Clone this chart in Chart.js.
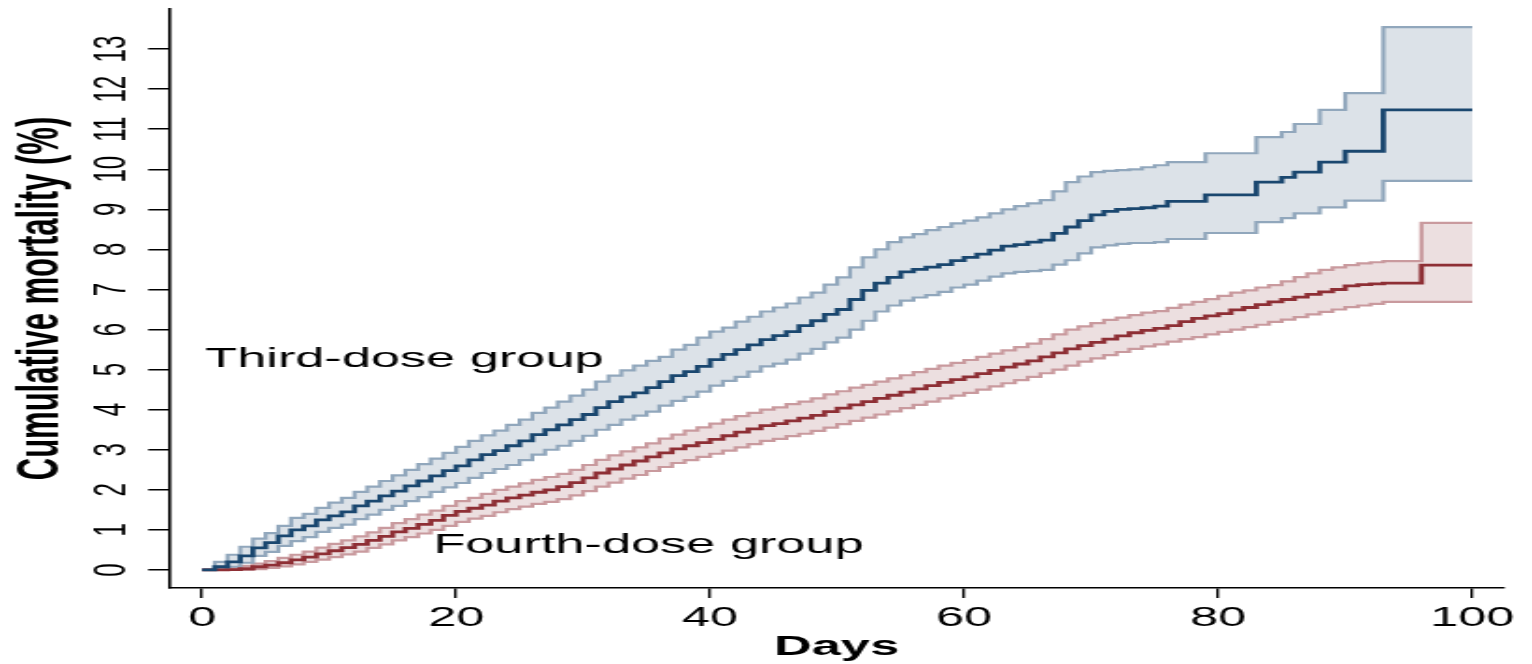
<!DOCTYPE html>
<html>
<head>
<meta charset="utf-8">
<script src="https://cdn.jsdelivr.net/npm/chart.js@4.4.1/dist/chart.umd.min.js"></script>
<style>
  html, body { margin: 0; padding: 0; background: #fff; }
  canvas { display: block; }
</style>
</head>
<body>
<!-- drawn at 820px wide and stretched to 1532px, like the wide-aspect original -->
<canvas id="kmChart" width="820" height="664" style="width:1532px;height:664px"></canvas>
<script>
var days = [
    0, 1, 2, 3, 4, 5, 6, 7, 8, 9,
    10, 11, 12, 13, 14, 15, 16, 17, 18, 19,
    20, 21, 22, 23, 24, 25, 26, 27, 28, 29,
    30, 31, 32, 33, 34, 35, 36, 37, 38, 39,
    40, 41, 42, 43, 44, 45, 46, 47, 48, 49,
    50, 51, 52, 53, 54, 55, 56, 57, 58, 59,
    60, 61, 62, 63, 64, 65, 66, 67, 68, 69,
    70, 71, 72, 73, 74, 75, 76, 77, 78, 79,
    80, 81, 82, 83, 84, 85, 86, 87, 88, 89,
    90, 91, 92, 93, 94, 95, 96, 97, 98, 99,
    100
];

// third-dose group: estimate, upper and lower 95% CI (%)
var thirdEst = [
    0, 0.08, 0.2, 0.35, 0.55, 0.68, 0.85, 1.0, 1.1, 1.25,
    1.35, 1.45, 1.6, 1.72, 1.85, 1.97, 2.1, 2.22, 2.35, 2.48,
    2.6, 2.75, 2.88, 2.98, 3.1, 3.22, 3.38, 3.5, 3.62, 3.75,
    3.88, 4.05, 4.2, 4.32, 4.42, 4.55, 4.7, 4.85, 4.95, 5.08,
    5.25, 5.38, 5.5, 5.62, 5.75, 5.85, 5.95, 6.1, 6.22, 6.38,
    6.5, 6.75, 6.98, 7.16, 7.3, 7.44, 7.5, 7.56, 7.62, 7.72,
    7.8, 7.88, 7.98, 8.08, 8.12, 8.18, 8.23, 8.4, 8.56, 8.72,
    8.86, 8.95, 9.0, 9.02, 9.04, 9.08, 9.2, 9.2, 9.2, 9.36,
    9.36, 9.36, 9.36, 9.68, 9.68, 9.8, 9.93, 9.93, 10.18, 10.18,
    10.45, 10.45, 10.45, 11.48, 11.48, 11.48, 11.48, 11.48, 11.48, 11.48,
    11.48
];
var thirdUp = [
    0, 0.2, 0.38, 0.58, 0.78, 0.92, 1.1, 1.3, 1.4, 1.55,
    1.68, 1.8, 1.95, 2.08, 2.22, 2.36, 2.5, 2.64, 2.78, 2.92,
    3.07, 3.22, 3.36, 3.48, 3.62, 3.75, 3.92, 4.05, 4.2, 4.35,
    4.5, 4.7, 4.85, 4.98, 5.1, 5.22, 5.32, 5.5, 5.62, 5.8,
    5.95, 6.05, 6.2, 6.32, 6.45, 6.55, 6.65, 6.8, 6.92, 7.12,
    7.3, 7.55, 7.8, 8.0, 8.18, 8.3, 8.38, 8.48, 8.56, 8.65,
    8.72, 8.8, 8.9, 9.0, 9.08, 9.15, 9.23, 9.45, 9.68, 9.82,
    9.93, 9.96, 9.98, 10.0, 10.05, 10.1, 10.18, 10.18, 10.18, 10.4,
    10.4, 10.4, 10.4, 10.8, 10.8, 10.93, 11.13, 11.13, 11.48, 11.48,
    11.9, 11.9, 11.9, 13.55, 13.55, 13.55, 13.55, 13.55, 13.55, 13.55,
    13.55
];
var thirdLow = [
    0, 0, 0.08, 0.18, 0.35, 0.45, 0.6, 0.72, 0.82, 0.95,
    1.05, 1.13, 1.27, 1.38, 1.5, 1.6, 1.72, 1.82, 1.95, 2.06,
    2.17, 2.3, 2.42, 2.52, 2.62, 2.74, 2.88, 3.0, 3.1, 3.22,
    3.35, 3.5, 3.62, 3.75, 3.85, 3.95, 4.1, 4.22, 4.32, 4.45,
    4.6, 4.72, 4.82, 4.95, 5.08, 5.15, 5.25, 5.4, 5.52, 5.68,
    5.8, 6.0, 6.22, 6.45, 6.6, 6.72, 6.8, 6.86, 6.94, 7.05,
    7.12, 7.22, 7.32, 7.4, 7.44, 7.46, 7.49, 7.62, 7.73, 7.9,
    8.05, 8.1, 8.14, 8.16, 8.16, 8.18, 8.26, 8.26, 8.26, 8.41,
    8.41, 8.41, 8.41, 8.68, 8.68, 8.78, 8.9, 8.9, 9.05, 9.05,
    9.22, 9.22, 9.22, 9.71, 9.71, 9.71, 9.71, 9.71, 9.71, 9.71,
    9.71
];

// fourth-dose group
var fourthEst = [
    0, 0, 0.01, 0.03, 0.08, 0.12, 0.18, 0.25, 0.32, 0.4,
    0.48, 0.56, 0.64, 0.74, 0.84, 0.95, 1.04, 1.14, 1.24, 1.36,
    1.46, 1.54, 1.62, 1.72, 1.8, 1.87, 1.94, 2.0, 2.08, 2.18,
    2.3, 2.42, 2.52, 2.62, 2.72, 2.82, 2.92, 3.02, 3.1, 3.18,
    3.26, 3.35, 3.44, 3.52, 3.6, 3.65, 3.72, 3.79, 3.86, 3.95,
    4.04, 4.12, 4.2, 4.28, 4.36, 4.44, 4.52, 4.6, 4.68, 4.75,
    4.82, 4.9, 4.98, 5.06, 5.14, 5.22, 5.32, 5.42, 5.52, 5.6,
    5.68, 5.76, 5.84, 5.92, 5.98, 6.03, 6.1, 6.2, 6.28, 6.34,
    6.4, 6.49, 6.55, 6.62, 6.69, 6.75, 6.81, 6.88, 6.94, 7.0,
    7.09, 7.12, 7.14, 7.16, 7.16, 7.16, 7.61, 7.61, 7.61, 7.61,
    7.61
];
var fourthUp = [
    0, 0.02, 0.05, 0.1, 0.16, 0.22, 0.3, 0.38, 0.46, 0.56,
    0.65, 0.74, 0.84, 0.94, 1.05, 1.17, 1.27, 1.38, 1.48, 1.6,
    1.72, 1.8, 1.9, 2.0, 2.08, 2.16, 2.25, 2.32, 2.4, 2.5,
    2.62, 2.75, 2.86, 2.96, 3.06, 3.16, 3.28, 3.38, 3.48, 3.56,
    3.65, 3.75, 3.84, 3.92, 4.0, 4.06, 4.14, 4.2, 4.28, 4.38,
    4.46, 4.55, 4.62, 4.7, 4.78, 4.86, 4.94, 5.02, 5.1, 5.17,
    5.24, 5.32, 5.4, 5.48, 5.56, 5.65, 5.76, 5.88, 6.0, 6.08,
    6.16, 6.24, 6.3, 6.36, 6.42, 6.46, 6.54, 6.62, 6.69, 6.76,
    6.84, 6.92, 6.98, 7.05, 7.11, 7.2, 7.31, 7.4, 7.49, 7.55,
    7.61, 7.65, 7.68, 7.71, 7.71, 7.71, 8.66, 8.66, 8.66, 8.66,
    8.66
];
var fourthLow = [
    0, 0, 0, 0, 0.02, 0.05, 0.09, 0.14, 0.2, 0.26,
    0.32, 0.39, 0.46, 0.55, 0.64, 0.74, 0.82, 0.91, 1.0, 1.1,
    1.2, 1.28, 1.35, 1.44, 1.52, 1.58, 1.65, 1.7, 1.77, 1.86,
    1.97, 2.08, 2.18, 2.28, 2.37, 2.47, 2.57, 2.67, 2.74, 2.82,
    2.9, 2.98, 3.06, 3.14, 3.22, 3.27, 3.34, 3.4, 3.47, 3.55,
    3.64, 3.72, 3.8, 3.88, 3.96, 4.04, 4.12, 4.2, 4.28, 4.35,
    4.42, 4.5, 4.58, 4.66, 4.74, 4.82, 4.91, 5.0, 5.1, 5.2,
    5.28, 5.36, 5.44, 5.52, 5.58, 5.63, 5.7, 5.76, 5.81, 5.88,
    5.94, 6.0, 6.06, 6.12, 6.19, 6.25, 6.31, 6.38, 6.44, 6.5,
    6.56, 6.6, 6.64, 6.69, 6.69, 6.69, 6.69, 6.69, 6.69, 6.69,
    6.69
];

var xTicks = [0, 20, 40, 60, 80, 100];
var yTicks = [0, 1, 2, 3, 4, 5, 6, 7, 8, 9, 10, 11, 12, 13];
var groupNames = ['Third-dose group', 'Fourth-dose group'];
var groupNameAt = [{ x: 0.24, y: 5.07 }, { x: 18.2, y: 0.42 }];

var FONT = '"Liberation Sans", Arial, sans-serif';

function toPoints(vals) {
    return days.map(function(d, i) { return { x: d, y: vals[i] }; });
}

function stepLine(vals, color, width, extra) {
    var ds = {
        data: toPoints(vals),
        borderColor: color,
        borderWidth: width,
        stepped: true,
        pointRadius: 0,
        fill: false,
        order: 1
    };
    return Object.assign(ds, extra || {});
}

var groupText = {
    id: 'groupText',
    afterDatasetsDraw: function(chart) {
        var ctx = chart.ctx;
        var xs = chart.scales.x, ys = chart.scales.y;
        ctx.save();
        ctx.font = '28px ' + FONT;
        ctx.fillStyle = '#000';
        ctx.textAlign = 'left';
        ctx.textBaseline = 'alphabetic';
        groupNames.forEach(function(name, i) {
            ctx.fillText(name, xs.getPixelForValue(groupNameAt[i].x), ys.getPixelForValue(groupNameAt[i].y));
        });
        ctx.restore();
    }
};

var ctx = document.getElementById('kmChart').getContext('2d');
var kmChart = new Chart(ctx, {
    type: 'line',
    data: {
        datasets: [
            stepLine(thirdUp, '#91a7bc', 2.2, { fill: '+1', backgroundColor: '#dce2e8' }),
            stepLine(thirdLow, '#91a7bc', 2.2),
            stepLine(fourthUp, '#c99a9e', 2.2, { fill: '+1', backgroundColor: '#ecdfe0' }),
            stepLine(fourthLow, '#c99a9e', 2.2),
            stepLine(thirdEst, '#1a476f', 2.8, { order: 0 }),
            stepLine(fourthEst, '#8e2f35', 2.8, { order: 0 })
        ]
    },
    options: {
        responsive: false,
        devicePixelRatio: 1,
        animation: false,
        layout: { padding: { top: 9, right: 15, bottom: 0, left: 0 } },
        plugins: {
            legend: { display: false },
            tooltip: { enabled: false },
            filler: { drawTime: 'beforeDatasetsDraw' }
        },
        scales: {
            x: {
                type: 'linear',
                min: -2.6,
                max: 102.5,
                afterBuildTicks: function(s) {
                    s.ticks = xTicks.map(function(v) { return { value: v }; });
                },
                afterFit: function(s) {
                    s.height = 76;
                    s.paddingLeft = 0;
                    s.paddingRight = 0;
                },
                grid: { drawOnChartArea: false, drawTicks: true, tickLength: 10, color: '#000', lineWidth: 1.4 },
                border: { display: true, color: '#000', width: 1.6 },
                ticks: { autoSkip: false, minRotation: 0, maxRotation: 0, padding: 4, color: '#000', font: { family: FONT, size: 27 } },
                title: { display: true, text: 'Days', color: '#000', font: { family: FONT, size: 28, weight: 'bold' }, padding: { top: 0, bottom: 0 } }
            },
            y: {
                type: 'linear',
                min: -0.45,
                max: 14,
                afterBuildTicks: function(s) {
                    s.ticks = yTicks.map(function(v) { return { value: v }; });
                },
                afterFit: function(s) {
                    s.width = 90.5;
                    s.paddingTop = 0;
                    s.paddingBottom = 0;
                },
                grid: { drawOnChartArea: false, drawTicks: true, tickLength: 11.2, color: '#000', lineWidth: 1.5 },
                border: { display: true, color: '#000', width: 1.6 },
                ticks: { autoSkip: false, minRotation: 90, maxRotation: 90, crossAlign: 'center', padding: 6, color: '#000', font: { family: FONT, size: 24 } },
                title: { display: true, text: 'Cumulative mortality (%)', color: '#000', font: { family: FONT, size: 31, weight: 'bold' }, padding: { top: 4, bottom: 0 } }
            }
        }
    },
    plugins: [groupText]
});
</script>
</body>
</html>
